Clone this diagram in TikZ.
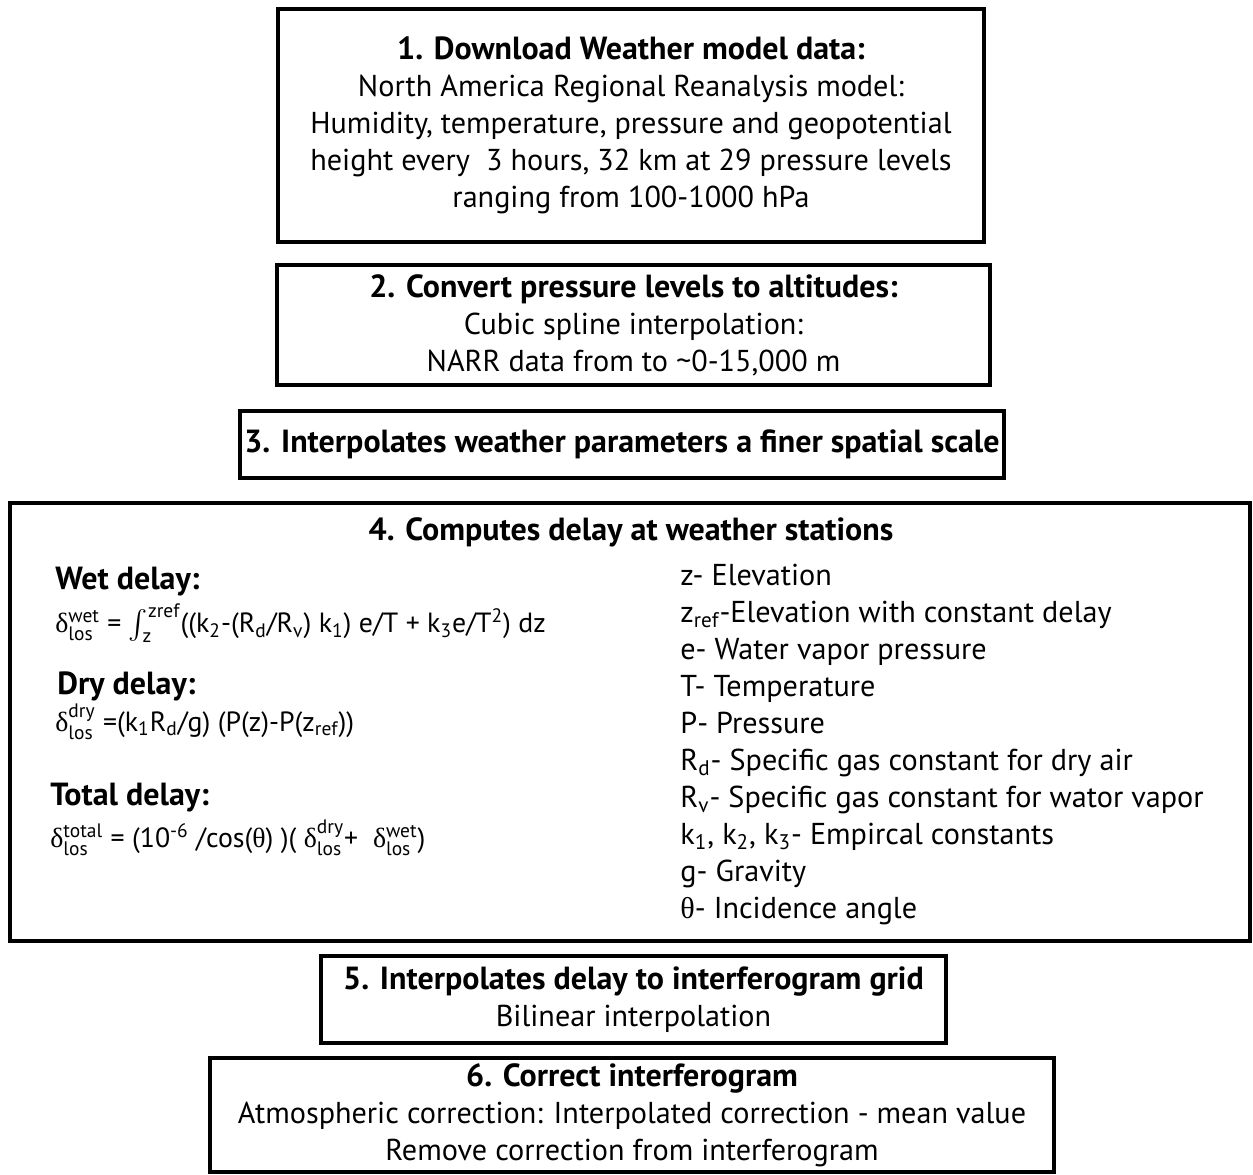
\documentclass[tikz,border=0pt]{standalone}
\usepackage{amsmath}
\usepackage{fontspec}
\setmainfont{PT Sans}
\newfontfamily\symfont{Liberation Serif}
\usetikzlibrary{positioning}
\newcommand\wxfont{\fontsize{15.1}{18.5}\selectfont}
\newcommand\wxbold{\fontsize{16}{18.5}\selectfont\bfseries}
\newcommand\wxformula{\fontsize{13.9}{18.5}\selectfont}
\newcommand\dlos[1]{{\symfont δ}$^{\text{#1}}_{\text{los}}$}
\tikzset{
  wx-box/.style={
    draw=black, line width=2pt, fill=white, align=center,
    inner sep=0pt, font=\wxfont
  },
  wx-text/.style={align=left, inner sep=0pt, font=\wxfont},
  wx-head/.style={wx-text, font=\wxbold},
  wx-formula/.style={wx-text, font=\wxformula}
}
\begin{document}
\begin{tikzpicture}[x=0.5pt, y=-0.5pt]
\useasboundingbox (0,0) rectangle (1253,1174);

% Step 1
\node[wx-box, minimum width=353pt, minimum height=116.5pt] (download) at (631,125.5)
  {{\wxbold 1. Download Weather model data:}\\
  North America Regional Reanalysis model:\\
  Humidity, temperature, pressure and geopotential\\
  height every \ 3 hours, 32 km at 29 pressure levels\\
  ranging from 100-1000 hPa};

% Step 2
\node[wx-box, minimum width=356.5pt, minimum height=60pt] (convert) at (633.5,325)
  {{\wxbold 2. Convert pressure levels to altitudes:}\\
  Cubic spline interpolation:\\
  NARR data from to \textasciitilde0-15,000 m};

% Step 3
\node[wx-box, minimum width=382pt, minimum height=33.5pt] (finer) at (622,444.5)
  {{\wxbold 3. Interpolates weather parameters a finer spatial scale}};

% Step 4
\node[wx-box, minimum width=620pt, minimum height=219pt] (stations) at (630,722) {};
\node[wx-head] (stationstitle) at (631,532) {4. Computes delay at weather stations};

\node[wx-head, anchor=west] (wetlab) at (55,582) {Wet delay:};
\node[wx-formula, anchor=west] (wet) at (55,623)
  {\dlos{wet} = $\int_{\text{z}}^{\text{zref}}$((k\textsubscript{2}-(R\textsubscript{d}/R\textsubscript{v}) k\textsubscript{1}) e/T + k\textsubscript{3}e/T\textsuperscript{2}) dz};
\node[wx-head, anchor=west] (drylab) at (57,686) {Dry delay:};
\node[wx-formula, anchor=west] (dry) at (55,722)
  {\dlos{dry} =(k\textsubscript{1}R\textsubscript{d}/g) (P(z)-P(z\textsubscript{ref}))};
\node[wx-head, anchor=west] (totallab) at (50,798) {Total delay:};
\node[wx-formula, anchor=west] (total) at (50,838)
  {\dlos{total} = (10\textsuperscript{-6} /cos({\symfont θ}) )( \dlos{dry}+ \ \dlos{wet})};

\node[wx-text, anchor=north west] (legend) at (680,564)
  {z- Elevation\\
  z\textsubscript{ref}-Elevation with constant delay\\
  e- Water vapor pressure\\
  T- Temperature\\
  P- Pressure\\
  R\textsubscript{d}- Specific gas constant for dry air\\
  R\textsubscript{v}- Specific gas constant for wator vapor\\
  k\textsubscript{1}, k\textsubscript{2}, k\textsubscript{3}- Empircal constants\\
  g- Gravity\\
  {\symfont θ}- Incidence angle};

% Step 5
\node[wx-box, minimum width=312.5pt, minimum height=43.5pt] (grid) at (633.5,999.5)
  {{\wxbold 5. Interpolates delay to interferogram grid}\\
  Bilinear interpolation};

% Step 6
\node[wx-box, minimum width=422pt, minimum height=57pt] (correct) at (632,1115)
  {{\wxbold 6. Correct interferogram}\\
  Atmospheric correction: Interpolated correction - mean value\\
  Remove correction from interferogram};
\end{tikzpicture}
\end{document}
